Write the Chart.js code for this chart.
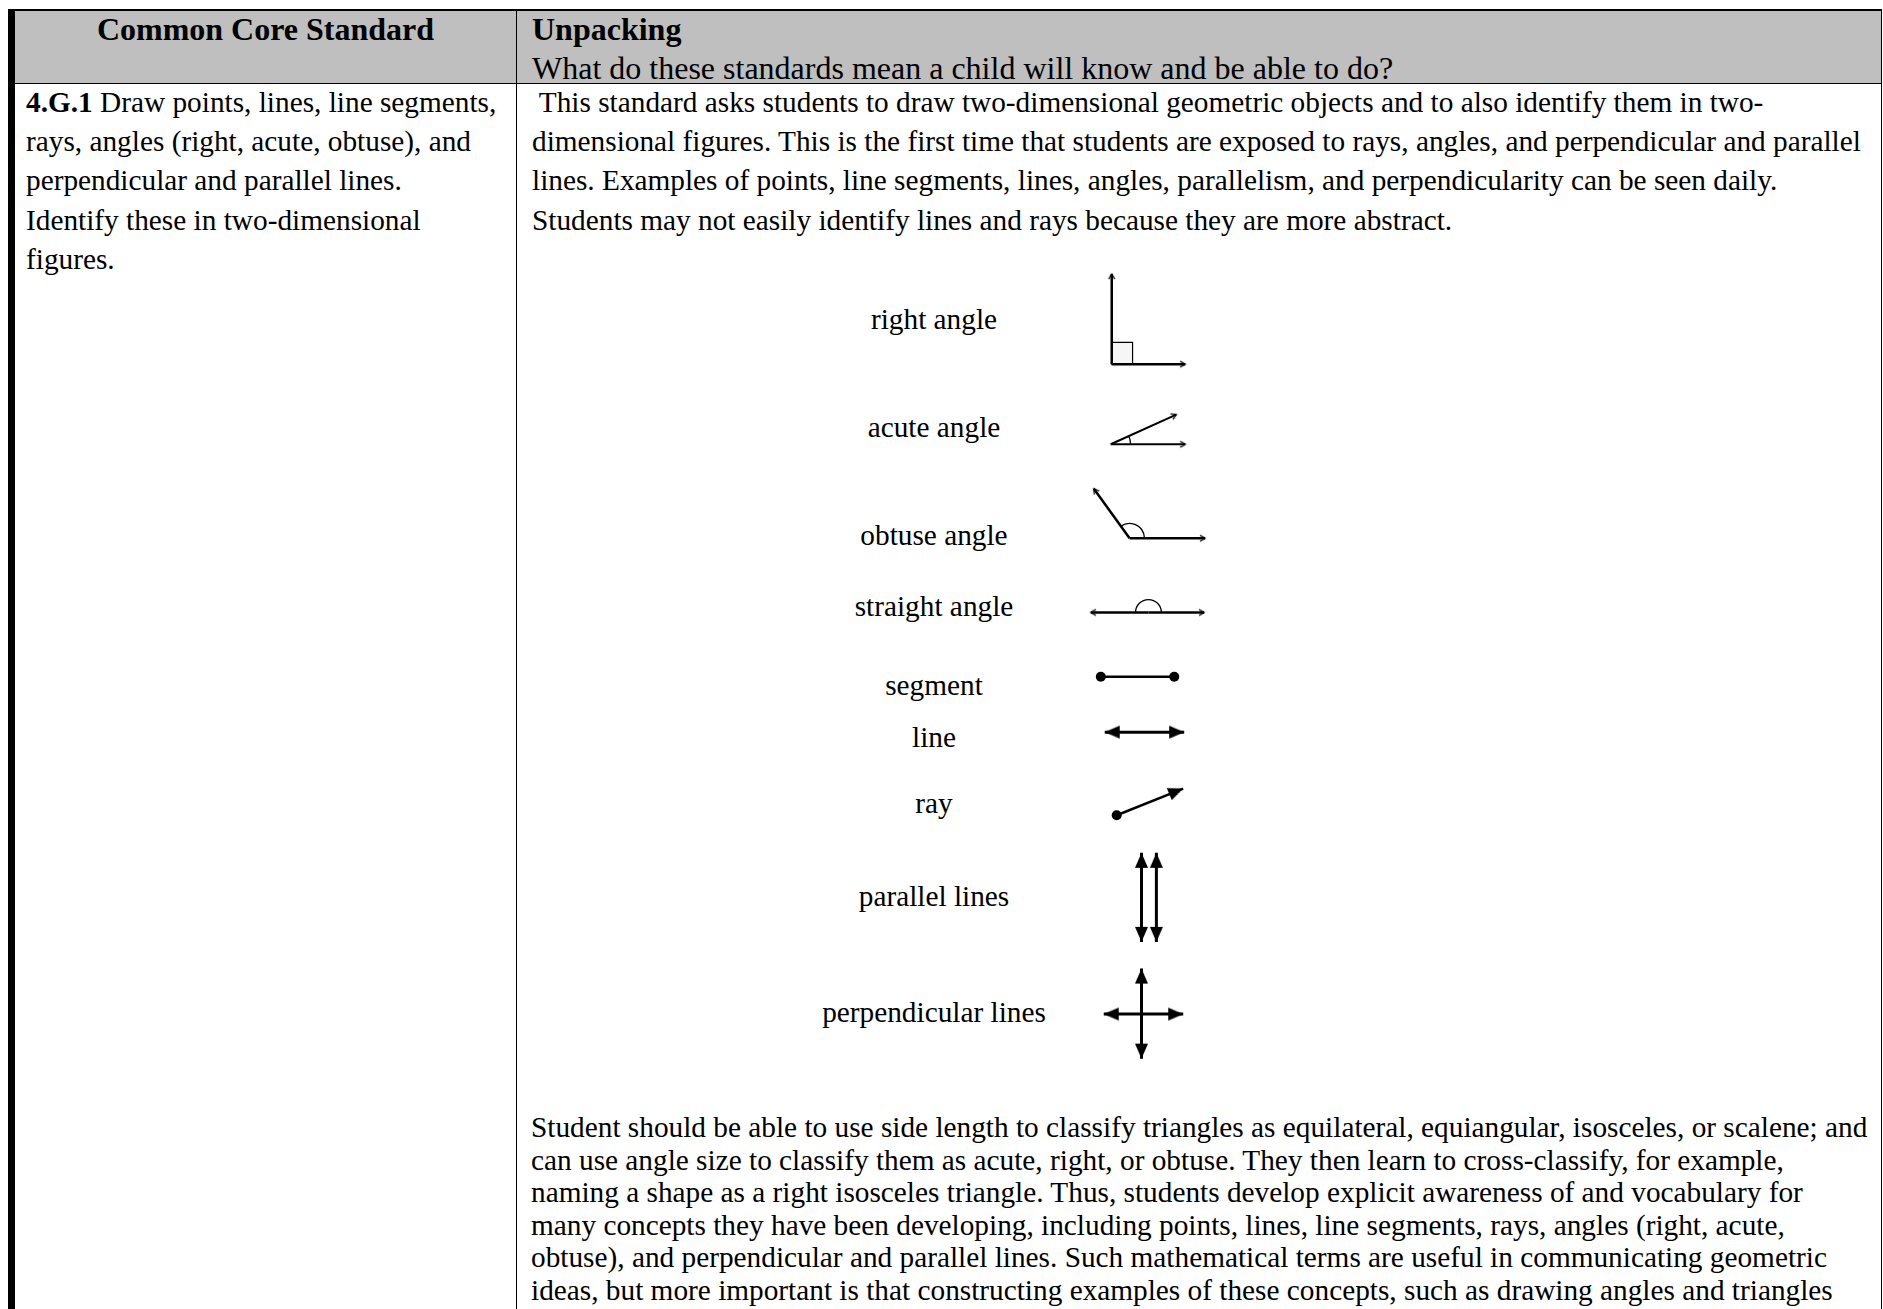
<!DOCTYPE html>
<html>
<head>
<meta charset="utf-8">
<script src="https://cdn.jsdelivr.net/npm/chart.js@4.4.1/dist/chart.umd.min.js"></script>
<style>
html, body { margin: 0; padding: 0; background: #fff; }
#page { position: relative; width: 1883px; height: 1309px; overflow: hidden;
  font-family: "Liberation Serif", "Times New Roman", Times, serif; color: #000; }
.rule { position: absolute; background: #000; }
.txt { position: absolute; white-space: pre; }
.head { font-size: 32px; line-height: 38.5px; }
.body { font-size: 29.3px; }
.lbl { position: absolute; font-size: 29.3px; line-height: 29.3px; white-space: pre; transform: translateX(-50%); }
#fig { position: absolute; left: 0; top: 0; }
</style>
</head>
<body>
<div id="page">
<div style="position:absolute;left:15px;top:11px;width:1866px;height:72px;background:#bfbfbf"></div>
<div class="rule" style="left:8px;top:9px;width:1874px;height:2px"></div>
<div class="rule" style="left:8px;top:9px;width:7px;height:1300px"></div>
<div class="rule" style="left:15px;top:83px;width:1867px;height:1px"></div>
<div class="rule" style="left:516px;top:9px;width:1px;height:1300px"></div>
<div class="rule" style="left:1881px;top:9px;width:1px;height:1300px"></div>

<div class="txt head" style="left:15px;width:501px;top:10px;text-align:center;font-weight:bold">Common Core Standard</div>
<div class="txt head" style="left:532px;top:10px"><b>Unpacking</b>
What do these standards mean a child will know and be able to do?</div>

<div class="txt body" style="left:26px;top:83px;line-height:39.2px"><b>4.G.1</b> Draw points, lines, line segments,
rays, angles (right, acute, obtuse), and
perpendicular and parallel lines.
Identify these in two-dimensional
figures.</div>

<div class="txt body" style="left:532px;top:83px;line-height:39.2px"> This standard asks students to draw two-dimensional geometric objects and to also identify them in two-
dimensional figures. This is the first time that students are exposed to rays, angles, and perpendicular and parallel
lines. Examples of points, line segments, lines, angles, parallelism, and perpendicularity can be seen daily.
Students may not easily identify lines and rays because they are more abstract.</div>

<div class="lbl" style="left:934px;top:305px">right angle</div>
<div class="lbl" style="left:934px;top:413px">acute angle</div>
<div class="lbl" style="left:934px;top:521px">obtuse angle</div>
<div class="lbl" style="left:934px;top:592px">straight angle</div>
<div class="lbl" style="left:934px;top:671px">segment</div>
<div class="lbl" style="left:934px;top:723px">line</div>
<div class="lbl" style="left:934px;top:789px">ray</div>
<div class="lbl" style="left:934px;top:882px">parallel lines</div>
<div class="lbl" style="left:934px;top:998px">perpendicular lines</div>

<div class="txt body" style="left:531px;top:1111px;line-height:32.6px">Student should be able to use side length to classify triangles as equilateral, equiangular, isosceles, or scalene; and
can use angle size to classify them as acute, right, or obtuse. They then learn to cross-classify, for example,
naming a shape as a right isosceles triangle. Thus, students develop explicit awareness of and vocabulary for
many concepts they have been developing, including points, lines, line segments, rays, angles (right, acute,
obtuse), and perpendicular and parallel lines. Such mathematical terms are useful in communicating geometric
ideas, but more important is that constructing examples of these concepts, such as drawing angles and triangles</div>

<canvas id="fig" width="1883" height="1309"></canvas>
</div>

<script>
// strokes of every figure: [x1, y1, x2, y2] in page units
const rightAngle = [[1113, 361, 1113, 270], [1113, 361, 1187, 361]];
const rightAngleBox = [[1113, 339], [1134, 339], [1134, 361], [1113, 361], [1113, 339]];
const acuteAngle = [[1112, 442, 1187, 442], [1112, 442, 1178, 412]];
const obtuseAngle = [[1131, 537, 1207, 537], [1131, 537, 1095, 487]];
const straightAngle = [[1150, 612, 1206, 612], [1150, 612, 1092, 612]];
const segment = [[1102, 677, 1176, 677]];
const line = [[1106, 733, 1186, 733]];
const ray = [[1118, 817, 1185, 790]];
const parallelLines = [[1143, 855, 1143, 945], [1158, 855, 1158, 945]];
const perpendicularLines = [[1143, 972, 1143, 1063], [1105, 1018, 1185, 1018]];
// angle marks: centre x, centre y, radius, from, to (degrees)
const angleArcs = [[1112, 442, 20, -24, 0], [1131, 537, 15, -126, 0], [1150, 612, 13, -180, 0]];

// arrowhead images, tip in the centre, pointing right
function makeHead(len, half, open) {
    const c = document.createElement('canvas');
    c.width = len * 2 + 4;
    c.height = half * 2 + 4;
    const g = c.getContext('2d');
    const cx = c.width / 2, cy = c.height / 2;
    g.beginPath();
    g.moveTo(cx - len, cy - half);
    g.lineTo(cx, cy);
    g.lineTo(cx - len, cy + half);
    if (open) { g.lineWidth = 1.4; g.stroke(); }
    else { g.closePath(); g.fill(); }
    return c;
}
const thinHead = makeHead(5, 3, true);
const boldHead = makeHead(15, 6.5, false);

const datasets = [];
const ends = { tick: [], arrow: [], dot: [] };

function strokes(list, width, startEnd, endEnd) {
    list.forEach(s => {
        datasets.push({
            data: [{ x: s[0], y: s[1] }, { x: s[2], y: s[3] }],
            showLine: true, borderColor: '#000', borderWidth: width,
            pointRadius: 0, order: 1
        });
        [[startEnd, s[0], s[1], s[2], s[3]], [endEnd, s[2], s[3], s[0], s[1]]].forEach(([kind, x, y, fx, fy]) => {
            if (kind) ends[kind].push({ x: x, y: y, r: Math.atan2(y - fy, x - fx) * 180 / Math.PI });
        });
    });
}

strokes(rightAngle, 2.5, null, 'tick');
strokes(acuteAngle, 2, null, 'tick');
strokes(obtuseAngle, 2.5, null, 'tick');
strokes(straightAngle, 2.5, null, 'tick');
strokes(segment, 2.5, 'dot', 'dot');
strokes(line, 3, 'arrow', 'arrow');
strokes(ray, 2.5, 'dot', 'arrow');
strokes(parallelLines, 3, 'arrow', 'arrow');
strokes(perpendicularLines, 3, 'arrow', 'arrow');

datasets.push({
    data: rightAngleBox.map(p => ({ x: p[0], y: p[1] })),
    showLine: true, fill: 'shape', backgroundColor: '#f6f6f6',
    borderColor: '#000', borderWidth: 1.2, pointRadius: 0, order: 2
});
datasets.push({
    data: ends.tick, pointStyle: thinHead, pointRadius: 4,
    pointRotation: ends.tick.map(e => e.r), order: 0
});
datasets.push({
    data: ends.arrow, pointStyle: boldHead, pointRadius: 6,
    pointRotation: ends.arrow.map(e => e.r), order: 0
});
datasets.push({
    data: ends.dot, pointStyle: 'circle', pointRadius: 5,
    pointBackgroundColor: '#000', pointBorderWidth: 0, order: 0
});

// small arcs that mark the angles
const arcMarks = {
    id: 'arcMarks',
    afterDatasetsDraw(chart) {
        const { ctx, scales } = chart;
        ctx.save();
        ctx.strokeStyle = '#000';
        ctx.lineWidth = 1.3;
        angleArcs.forEach(a => {
            const cx = scales.x.getPixelForValue(a[0]);
            const cy = scales.y.getPixelForValue(a[1]);
            const r = scales.x.getPixelForValue(a[0] + a[2]) - cx;
            ctx.beginPath();
            ctx.arc(cx, cy, r, a[3] * Math.PI / 180, a[4] * Math.PI / 180);
            ctx.stroke();
        });
        ctx.restore();
    }
};

new Chart(document.getElementById('fig'), {
    type: 'scatter',
    data: { datasets: datasets },
    options: {
        responsive: false,
        animation: false,
        devicePixelRatio: 1,
        events: [],
        layout: { padding: 0 },
        plugins: { legend: { display: false }, tooltip: { enabled: false } },
        scales: {
            x: { type: 'linear', min: 0, max: 1883, display: false },
            y: { type: 'linear', min: 0, max: 1309, reverse: true, display: false }
        }
    },
    plugins: [arcMarks]
});
</script>
</body>
</html>
